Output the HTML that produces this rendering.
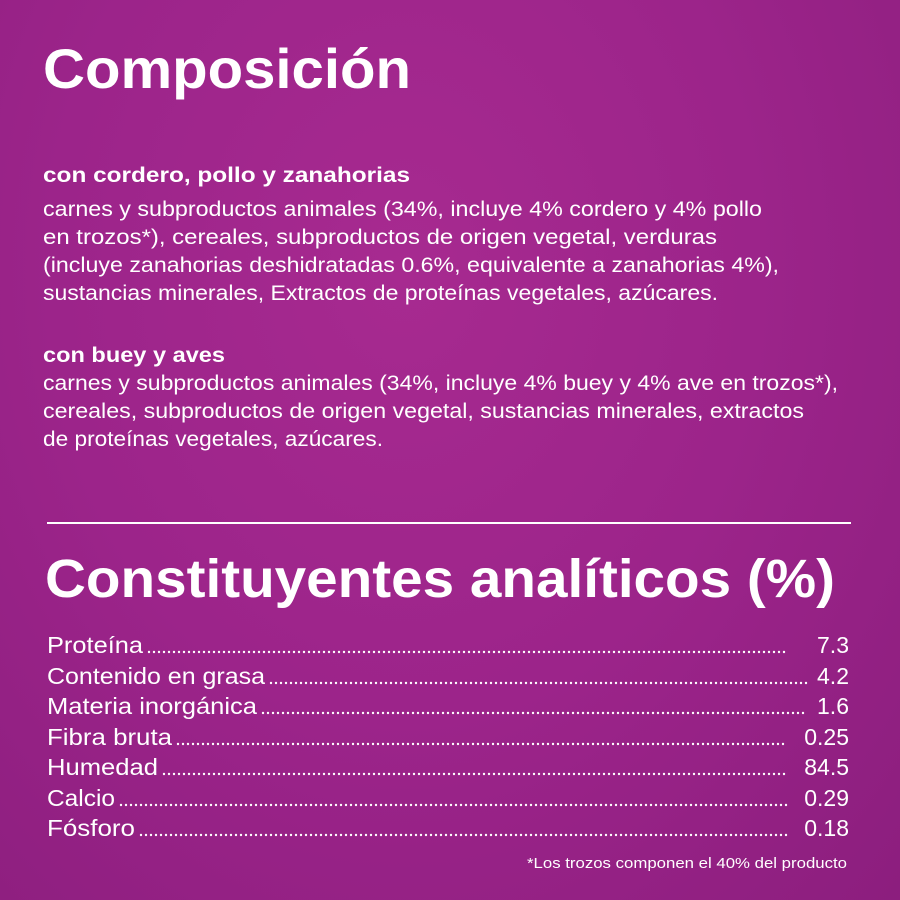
<!DOCTYPE html>
<html><head><meta charset="utf-8"><style>
html,body{margin:0;padding:0}
body{width:900px;height:900px;overflow:hidden;background:radial-gradient(ellipse at 45% 30%,#a72a90 0%,#9c248a 50%,#8c1e7e 100%)}
svg{display:block}
text{font-family:"Liberation Sans",sans-serif;fill:#fff}
</style></head><body>
<svg width="900" height="900" viewBox="0 0 900 900">
<text x="43" y="88" font-size="56" font-weight="bold" textLength="368" lengthAdjust="spacingAndGlyphs">Composición</text>
<g font-size="21">
<text x="43" y="182" font-weight="bold" textLength="367" lengthAdjust="spacingAndGlyphs">con cordero, pollo y zanahorias</text>
<text x="43" y="216" textLength="719" lengthAdjust="spacingAndGlyphs">carnes y subproductos animales (34%, incluye 4% cordero y 4% pollo</text>
<text x="43" y="244" textLength="674" lengthAdjust="spacingAndGlyphs">en trozos*), cereales, subproductos de origen vegetal, verduras</text>
<text x="43" y="272" textLength="736" lengthAdjust="spacingAndGlyphs">(incluye zanahorias deshidratadas 0.6%, equivalente a zanahorias 4%),</text>
<text x="43" y="300" textLength="675" lengthAdjust="spacingAndGlyphs">sustancias minerales, Extractos de proteínas vegetales, azúcares.</text>
<text x="43" y="362" font-weight="bold" textLength="182" lengthAdjust="spacingAndGlyphs">con buey y aves</text>
<text x="43" y="390" textLength="795" lengthAdjust="spacingAndGlyphs">carnes y subproductos animales (34%, incluye 4% buey y 4% ave en trozos*),</text>
<text x="43" y="418" textLength="761" lengthAdjust="spacingAndGlyphs">cereales, subproductos de origen vegetal, sustancias minerales, extractos</text>
<text x="43" y="446" textLength="340" lengthAdjust="spacingAndGlyphs">de proteínas vegetales, azúcares.</text>
</g>
<rect x="47" y="522" width="804" height="2" fill="#fff"/>
<text x="45" y="597" font-size="54" font-weight="bold" textLength="790" lengthAdjust="spacingAndGlyphs">Constituyentes analíticos (%)</text>
<g stroke="#fff" stroke-width="2.4" stroke-linecap="round" stroke-dasharray="0 5">
<line x1="149" y1="652" x2="787" y2="652"/>
<line x1="271" y1="683" x2="808" y2="683"/>
<line x1="263" y1="713" x2="808" y2="713"/>
<line x1="178" y1="744" x2="787" y2="744"/>
<line x1="164" y1="774" x2="785" y2="774"/>
<line x1="121" y1="805" x2="790" y2="805"/>
<line x1="141" y1="835" x2="790" y2="835"/>
</g>
<g font-size="23">
<text x="47" y="653" textLength="96" lengthAdjust="spacingAndGlyphs">Proteína</text>
<text x="47" y="684" textLength="218" lengthAdjust="spacingAndGlyphs">Contenido en grasa</text>
<text x="47" y="714" textLength="210" lengthAdjust="spacingAndGlyphs">Materia inorgánica</text>
<text x="47" y="745" textLength="125" lengthAdjust="spacingAndGlyphs">Fibra bruta</text>
<text x="47" y="775" textLength="111" lengthAdjust="spacingAndGlyphs">Humedad</text>
<text x="47" y="806" textLength="68" lengthAdjust="spacingAndGlyphs">Calcio</text>
<text x="47" y="836" textLength="88" lengthAdjust="spacingAndGlyphs">Fósforo</text>
<g text-anchor="end">
<text x="849" y="653">7.3</text>
<text x="849" y="684">4.2</text>
<text x="849" y="714">1.6</text>
<text x="849" y="745">0.25</text>
<text x="849" y="775">84.5</text>
<text x="849" y="806">0.29</text>
<text x="849" y="836">0.18</text>
</g>
</g>
<text x="847" y="868" font-size="15" text-anchor="end" textLength="320" lengthAdjust="spacingAndGlyphs">*Los trozos componen el 40% del producto</text>
</svg>
</body></html>
